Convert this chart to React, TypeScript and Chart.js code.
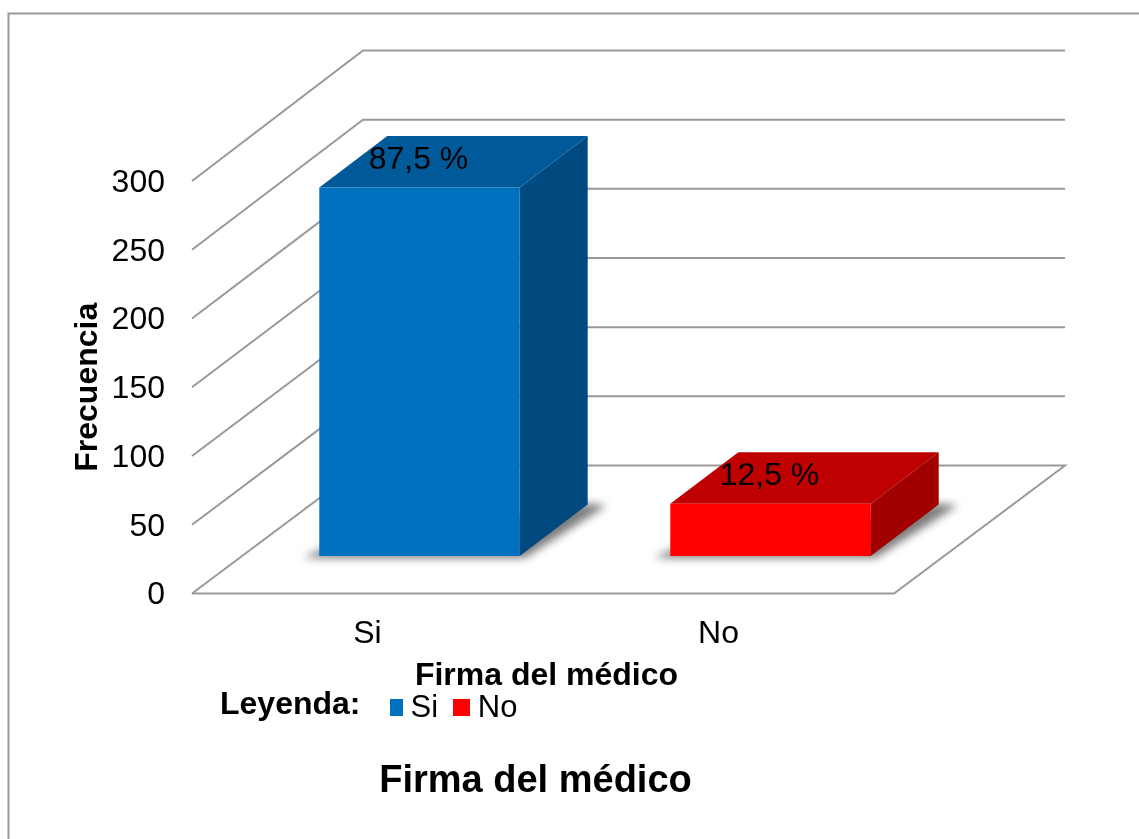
import React, { useEffect, useRef } from "react";
import { Chart, registerables } from "chart.js";

Chart.register(...registerables);

const categories = ["Si", "No"];
const frequency = [268, 38];
const percentLabels = ["87,5 %", "12,5 %"];
const yTicksMax = 300;
const yStep = 50;
const frontColors = ["#0070C0", "#FF0000"];
const topColors = ["#005A9A", "#BE0000"];
const sideColors = ["#004A80", "#A00000"];
const FONT = '"Liberation Sans", Arial, sans-serif';

const GRID = "#999999";
const WALL_DX = 171;
const WALL_DY = 128;
const BAR_SHIFT_X = 52;
const BAR_SHIFT_Y = -37.5;
const BAR_DX = 68;
const BAR_DY = -51.5;

const threeD = {
  id: "threeD",
  beforeDraw(chart: any) {
    const ctx = chart.ctx;
    ctx.save();
    ctx.strokeStyle = "#999999";
    ctx.lineWidth = 2;
    ctx.beginPath();
    ctx.moveTo(8.5, 839);
    ctx.lineTo(8.5, 13.5);
    ctx.lineTo(1139, 13.5);
    ctx.stroke();
    ctx.restore();
  },
  afterLayout(chart: any) {
    const lg = chart.legend;
    lg.left = 370.7;
    lg.right = 900;
    lg.top = 670;
    lg.bottom = 670 + lg.height;
    const tb = chart.titleBlock;
    tb.left = 0;
    tb.right = 1071;
    tb.top = 759;
    tb.bottom = 759 + tb.height;
    const xs = chart.scales.x;
    if (!xs.__patched) {
      const orig = xs.drawTitle;
      xs.drawTitle = function () {
        const c = this.ctx;
        c.save();
        c.translate(3.5, 0);
        orig.call(this);
        c.restore();
      };
      xs.__patched = true;
    }
    const ys = chart.scales.y;
    if (!ys.__patched) {
      const origLabels = ys.drawLabels;
      ys.drawLabels = function (area: any) {
        const c = this.ctx;
        c.save();
        c.translate(0, 2);
        origLabels.call(this, area);
        c.restore();
      };
      ys.__patched = true;
    }
  },
  beforeDatasetsDraw(chart: any) {
    const { ctx, chartArea, scales } = chart;
    const y = scales.y;
    const { left, right } = chartArea;
    ctx.save();
    ctx.strokeStyle = GRID;
    ctx.lineWidth = 2;
    ctx.lineJoin = "miter";
    // walls: each tick runs from the front edge back, then along the back wall
    y.ticks.forEach((t: any) => {
      const py = y.getPixelForValue(t.value);
      const d = WALL_DY + (t.value / yTicksMax) * 2.5;
      ctx.beginPath();
      ctx.moveTo(left, py);
      ctx.lineTo(left + WALL_DX, py - d);
      ctx.lineTo(right + WALL_DX, py - d);
      if (t.value === 0) {
        ctx.lineTo(right, py);
        ctx.lineTo(left, py);
      }
      ctx.stroke();
    });
    const meta = chart.getDatasetMeta(0);
    const base = y.getPixelForValue(0) + BAR_SHIFT_Y;
    meta.data.forEach((bar: any, i: number) => {
      const half = bar.width / 2;
      const l = bar.x - half + BAR_SHIFT_X;
      const r = bar.x + half + BAR_SHIFT_X;
      const t = bar.y + BAR_SHIFT_Y;
      // soft shadow on the floor
      ctx.save();
      ctx.filter = "blur(4px)";
      ctx.fillStyle = "#7c7c7c";
      ctx.beginPath();
      ctx.moveTo(l - 16, base + 2);
      ctx.lineTo(r + 5, base + 2);
      ctx.lineTo(r + BAR_DX + 19, base + BAR_DY + 1);
      ctx.lineTo(r + BAR_DX, base + BAR_DY - 1);
      ctx.lineTo(l, base - 6);
      ctx.closePath();
      ctx.fill();
      ctx.restore();
      // top face
      ctx.fillStyle = topColors[i];
      ctx.beginPath();
      ctx.moveTo(l, t);
      ctx.lineTo(r, t);
      ctx.lineTo(r + BAR_DX, t + BAR_DY);
      ctx.lineTo(l + BAR_DX, t + BAR_DY);
      ctx.closePath();
      ctx.fill();
      // side face
      ctx.fillStyle = sideColors[i];
      ctx.beginPath();
      ctx.moveTo(r, t);
      ctx.lineTo(r + BAR_DX, t + BAR_DY);
      ctx.lineTo(r + BAR_DX, base + BAR_DY);
      ctx.lineTo(r, base);
      ctx.closePath();
      ctx.fill();
    });
    ctx.restore();
    ctx.save();
    ctx.translate(BAR_SHIFT_X, BAR_SHIFT_Y);
  },
  afterDatasetsDraw(chart: any) {
    const ctx = chart.ctx;
    ctx.restore();
    ctx.save();
    ctx.fillStyle = "#000";
    ctx.font = `32px ${FONT}`;
    ctx.textAlign = "center";
    ctx.textBaseline = "middle";
    chart.getDatasetMeta(0).data.forEach((bar: any, i: number) => {
      ctx.fillText(percentLabels[i], bar.x + BAR_SHIFT_X - 1, bar.y + BAR_SHIFT_Y - 27.5);
    });
    ctx.restore();
  },
  afterDraw(chart: any) {
    const ctx = chart.ctx;
    ctx.save();
    ctx.fillStyle = "#000";
    ctx.font = `bold 32px ${FONT}`;
    ctx.textAlign = "left";
    ctx.textBaseline = "alphabetic";
    ctx.fillText("Leyenda:", 220, 714);
    ctx.fillStyle = frontColors[0];
    ctx.fillRect(390, 699, 13, 17);
    ctx.fillStyle = frontColors[1];
    ctx.fillRect(453, 699, 17, 17);
    ctx.restore();
  },
};

export default function App() {
  const ref = useRef<HTMLCanvasElement>(null);
  useEffect(() => {
    document.body.style.margin = "0";
    const chart = new Chart(ref.current as HTMLCanvasElement, {
      type: "bar",
      data: {
        labels: categories,
        datasets: [
          {
            label: "Frecuencia",
            data: frequency,
            backgroundColor: frontColors,
            borderWidth: 0,
            barPercentage: 0.571,
            categoryPercentage: 1,
            clip: false,
          } as any,
        ],
      },
      options: {
        responsive: false,
        animation: false,
        events: [],
        devicePixelRatio: 1,
        layout: { padding: { left: 68.5, top: 181, right: 245, bottom: 0 } },
        plugins: {
          tooltip: { enabled: false },
          title: {
            display: true,
            text: "Firma del médico",
            position: "bottom",
            color: "#000",
            padding: 0,
            font: { family: FONT, size: 38, weight: "bold" },
          },
          legend: {
            display: true,
            position: "bottom",
            align: "start",
            labels: {
              boxWidth: 1,
              boxHeight: 1,
              padding: 23.3,
              color: "#000",
              font: { family: FONT, size: 31 },
              generateLabels: () =>
                categories.map((c) => ({
                  text: c,
                  fillStyle: "rgba(0,0,0,0)",
                  strokeStyle: "rgba(0,0,0,0)",
                  lineWidth: 0,
                  fontColor: "#000",
                  hidden: false,
                })),
            },
          },
        },
        scales: {
          x: {
            grid: { display: false },
            border: { display: false },
            ticks: {
              color: "#000",
              padding: 13,
              maxRotation: 0,
              font: { family: FONT, size: 32 },
            },
            title: {
              display: true,
              text: "Firma del médico",
              color: "#000",
              padding: { top: 0, bottom: 34 },
              font: { family: FONT, size: 32, weight: "bold" },
            },
            afterFit(scale: any) {
              scale.height = 245.5 - scale.chart.legend.height - scale.chart.titleBlock.height;
            },
          },
          y: {
            min: 0,
            max: yTicksMax,
            grid: { display: false },
            border: { display: false },
            ticks: {
              stepSize: yStep,
              color: "#000",
              padding: 19,
              font: { family: FONT, size: 32 },
            },
            title: {
              display: true,
              text: "Frecuencia",
              color: "#000",
              padding: 0,
              font: { family: FONT, size: 32, weight: "bold" },
            },
            afterFit(scale: any) {
              scale.width = 123.5;
            },
          },
        },
      } as any,
      plugins: [threeD],
    });
    return () => chart.destroy();
  }, []);
  return (
    <div style={{ position: "absolute", left: 0, top: 0, width: 1139, height: 839, background: "#fff" }}>
      <canvas ref={ref} width={1139} height={839} style={{ display: "block" }} />
    </div>
  );
}
